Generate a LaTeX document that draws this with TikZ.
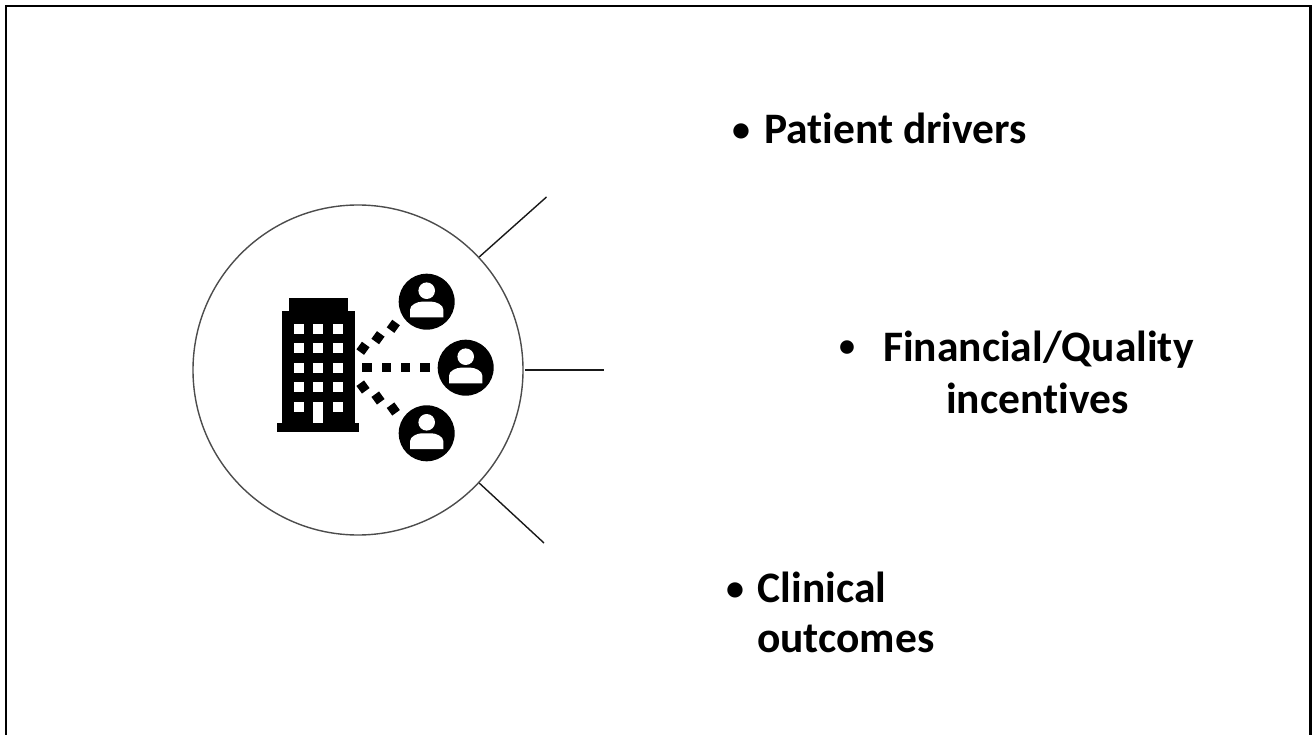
\documentclass[tikz,border=0pt]{standalone}
\usepackage{fontspec}
\setmainfont{Carlito}[Ligatures=NoCommon]

\begin{document}
\begin{tikzpicture}[x=1pt, y=-1pt, font=\fontsize{43.5}{50}\selectfont\bfseries,
    label/.style={anchor=base west, inner sep=0pt},
    dot/.style={anchor=base west, inner sep=0pt, font=\fontsize{36}{50}\selectfont\bfseries},
    spoke/.style={draw=black!90, line width=1.4pt}]
        \useasboundingbox (0,0) rectangle (1312,735);
        \draw[line width=2.2pt] (6,735) -- (6,6) -- (1310.5,6) -- (1310.5,735);
        % circle and spokes
        \node[circle, draw=black!70, line width=1.4pt, minimum size=330pt, inner sep=0pt] (hub) at (358,370) {};
        \coordinate (tipA) at (546.5,197);
        \coordinate (tipB) at (603.5,370);
        \coordinate (tipC) at (544,543);
        \draw[spoke] (hub.43) -- (tipA);
        \draw[spoke] ([xshift=1.5pt]hub.0) -- (tipB);
        \draw[spoke] (hub.-43) -- (tipC);
        % building
        \fill (289,298) rectangle (347.7,312);
        \fill (281.7,310.7) rectangle (355,424);
        \fill (276.7,422.7) rectangle (359.3,432.3);
        \foreach \x in {294,313.3,332.7} \foreach \y in {324,343.3,362.7,382.3} \fill[white] (\x,\y) rectangle (\x+10,\y+10);
        \fill[white] (294,401.7) rectangle (304,411.7);
        \fill[white] (332.7,401.7) rectangle (342.7,411.7);
        \fill[white] (313.3,401.7) rectangle (323.3,423.3);
        % dotted links
        \foreach \x in {367,386.3,405.5,425} \fill (\x-4.7,363) rectangle (\x+4.7,372.4);
        \foreach \x/\y in {363/348.3,378/337.7,393.3/326.3} \fill[rotate around={-36:(\x,\y)}] (\x-4.7,\y-4.7) rectangle (\x+4.7,\y+4.7);
        \foreach \x/\y in {363/387,378/398,393.3/409} \fill[rotate around={36:(\x,\y)}] (\x-4.7,\y-4.7) rectangle (\x+4.7,\y+4.7);
        % people
        \foreach \x/\y in {426.7/301.7,465.7/367.7,426.7/433.3} {
            \fill (\x,\y) circle (28);
            \fill[white] (\x,\y-11) circle (8.3);
            \fill[white] (\x-16.7,\y+15.7) -- (\x-16.7,\y+8) .. controls (\x-16.7,\y+3) and (\x-9,\y) .. (\x-5,\y) -- (\x+5,\y) .. controls (\x+9,\y) and (\x+16.7,\y+3) .. (\x+16.7,\y+8) -- (\x+16.7,\y+15.7) -- cycle;
        }
        % text
        \node[dot] (bulletA) at (732,142) {•};
        \node[label] (patient) at (764,144) {Patient drivers};
        \node[dot, font=\fontsize{32}{50}\selectfont\bfseries] (bulletB) at (839,356) {•};
        \node[label] (financial) at (883,362) {Financial/Quality};
        \node[label] (incentives) at (946,413) {incentives};
        \node[dot] (bulletC) at (726,600) {•};
        \node[label] (clinical) at (757.5,602) {Clinical};
        \node[label] (outcomes) at (757,652) {outcomes};
    \end{tikzpicture}
\end{document}
